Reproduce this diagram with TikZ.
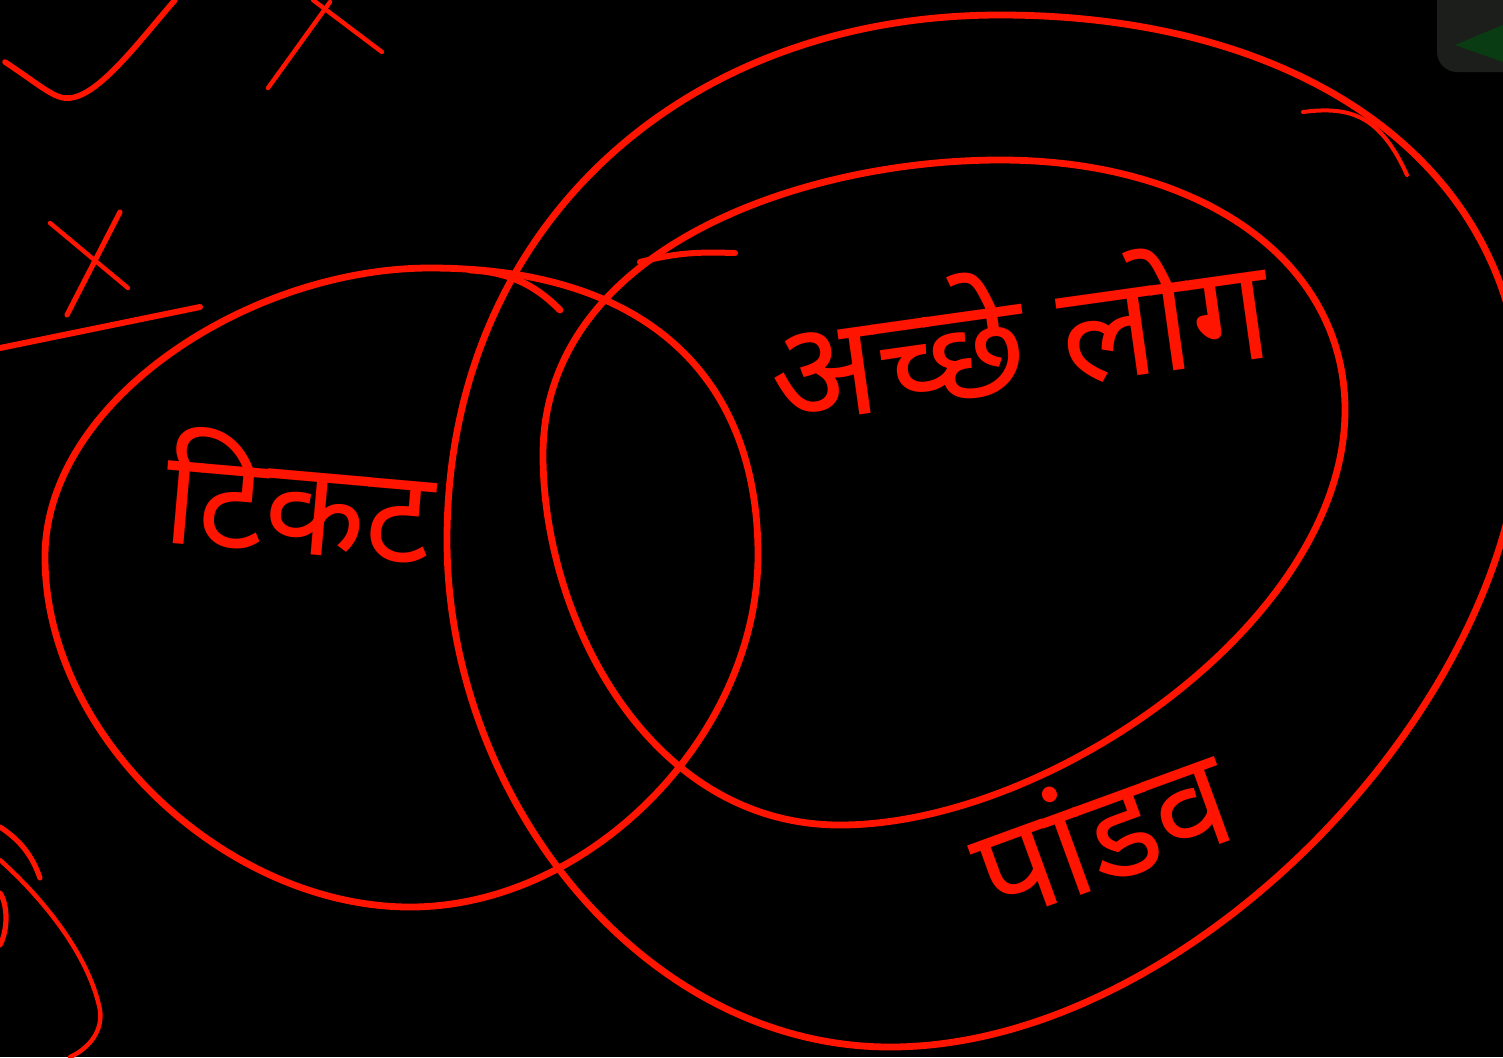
\documentclass[tikz,border=0pt]{standalone}
\usepackage{fontspec}
\usepackage{xcolor}
\newfontfamily\devfont[Script=Devanagari]{Noto Sans}
\definecolor{ink}{RGB}{255,20,0}
\definecolor{tabgrey}{RGB}{28,30,28}
\definecolor{tabgreen}{RGB}{10,60,20}

\begin{document}
\begin{tikzpicture}[x=0.5pt, y=-0.5pt, line cap=round, line join=round]
        \fill[black] (0,0) rectangle (1503,1057);
        \useasboundingbox (0,0) rectangle (1503,1057);

        % corner tab
        \fill[tabgrey, rounded corners=10pt] (1437,-20) rectangle (1530,72);
        \fill[tabgreen] (1455,45) -- (1503,25) -- (1503,62) -- cycle;

        % set A (left)
        \draw[ink, line width=3.4pt] (430,268) .. controls (650,268) and (758,380) .. (758,555)
            .. controls (758,735) and (590,907) .. (410,907)
            .. controls (230,907) and (45,740) .. (45,557)
            .. controls (45,400) and (250,268) .. (430,268);
        \draw[ink, line width=3.4pt] (470,270) .. controls (515,272) and (540,290) .. (560,310);
        % set B (big)
        \draw[ink, line width=3.4pt] (1000,15) .. controls (1310,15) and (1522,170) .. (1522,410)
            .. controls (1522,700) and (1190,1047) .. (890,1047)
            .. controls (645,1047) and (447,800) .. (447,540)
            .. controls (447,230) and (680,15) .. (1000,15);
        \draw[ink, line width=2pt] (1303,112) .. controls (1350,106) and (1380,115) .. (1407,175);
        % set C (inner)
        \draw[ink, line width=3.4pt] (1000,160) .. controls (1200,160) and (1345,260) .. (1345,410)
            .. controls (1345,620) and (1050,825) .. (840,825)
            .. controls (650,825) and (543,620) .. (543,455)
            .. controls (543,250) and (800,160) .. (1000,160);
        \draw[ink, line width=3pt] (640,262) .. controls (680,252) and (700,252) .. (735,253);

        % labels
        \node (lblA) at (300,495) [text=ink, rotate=-5, font=\devfont\fontsize{66}{76}\selectfont] {टिकट};
        \node (lblC) at (1018,330) [text=ink, rotate=8, font=\devfont\fontsize{70}{80}\selectfont] {अच्छे लोग};
        \node (lblB) at (1100,828) [text=ink, rotate=20, font=\devfont\fontsize{68}{78}\selectfont] {पांडव};

        % scribbles on the left
        \draw[ink, line width=2.8pt] (5,62) .. controls (40,85) and (55,100) .. (70,98) .. controls (100,95) and (140,40) .. (175,0);
        \draw[ink, line width=2.2pt] (268,88) -- (330,2);
        \draw[ink, line width=2.2pt] (313,0) -- (382,52);
        \draw[ink, line width=2.2pt] (50,223) -- (128,288);
        \draw[ink, line width=2.6pt] (120,212) -- (67,315);
        \draw[ink, line width=3pt] (0,348) -- (200,307);
        \draw[ink, line width=2.6pt] (0,827) .. controls (20,840) and (32,855) .. (40,878);
        \draw[ink, line width=2.2pt] (0,860) .. controls (50,905) and (90,960) .. (100,1010) .. controls (103,1030) and (90,1048) .. (70,1057);
        \draw[ink, line width=2.6pt] (0,893) .. controls (8,905) and (8,930) .. (0,945);
\end{tikzpicture}
\end{document}
